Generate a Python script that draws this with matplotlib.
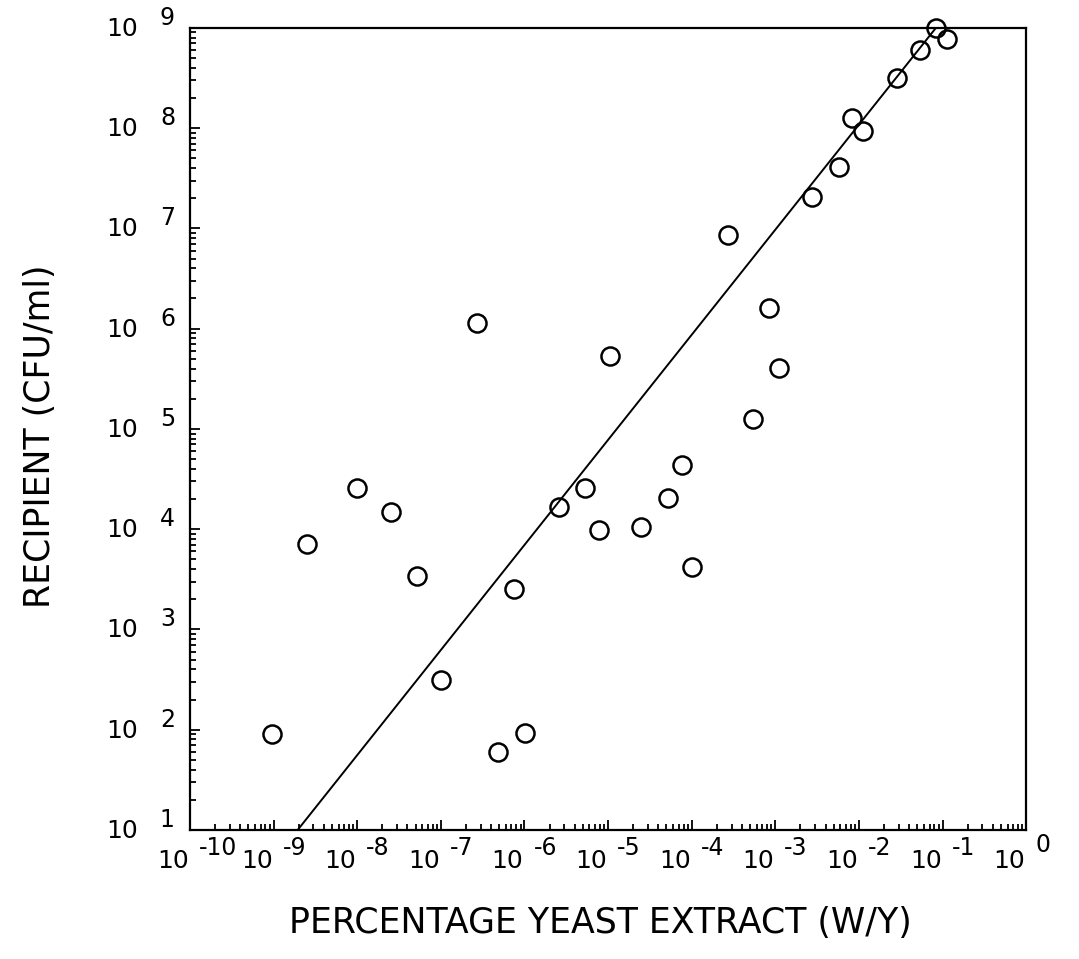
import numpy as np
import matplotlib
matplotlib.use("Agg")
import matplotlib.pyplot as plt
from matplotlib import transforms

plt.rcParams["font.family"] = ["DejaVu Sans"]

# percentage yeast extract (log10) and recipient counts (log10 CFU/ml)
log_extrato = [-9.02, -8.60, -8.00, -7.60, -7.29, -7.00, -6.57, -6.31, -6.12, -5.99,
               -5.59, -5.27, -5.11, -4.98, -4.60, -4.28, -4.11, -3.99, -3.56, -3.27,
               -3.08, -2.96, -2.56, -2.24, -2.08, -1.95, -1.54, -1.27, -1.08, -0.95]
log_receptor = [1.96, 3.85, 4.41, 4.17, 3.53, 2.50, 6.06, 1.78, 3.40, 1.97,
                4.22, 4.41, 3.99, 5.73, 4.02, 4.31, 4.64, 3.62, 6.93, 5.10,
                6.21, 5.61, 7.31, 7.61, 8.10, 7.97, 8.50, 8.78, 9.00, 8.89]

# regression line: log y = a + b * log x
inclinacao = 1.048
intercepto = 10.13

expoentes_x = list(range(-10, 1))
expoentes_y = list(range(1, 10))

x = 10.0 ** np.array(log_extrato)
y = 10.0 ** np.array(log_receptor)

fig = plt.figure(figsize=(10.79, 9.59), dpi=100)
ax = fig.add_axes([0.176, 0.1345, 0.775, 0.8365])
ax.set_xscale("log")
ax.set_yscale("log")
ax.set_xlim(1e-10, 1e0)
ax.set_ylim(1e1, 1e9)

xs = np.logspace(-10, 0, 400)
ys = 10.0 ** (intercepto + inclinacao * np.log10(xs))
ax.plot(xs, ys, color="black", lw=1.4)

ax.plot(x, y, "o", mfc="none", mec="black", ms=13, mew=1.8, clip_on=False)

for lado in ["left", "bottom", "top", "right"]:
    ax.spines[lado].set_linewidth(1.6)

ax.tick_params(which="both", direction="in", top=False, right=False,
               labelbottom=False, labelleft=False, width=1.3)
ax.tick_params(which="major", length=7)
ax.tick_params(which="minor", length=4)
ax.xaxis.set_major_locator(matplotlib.ticker.LogLocator(base=10, numticks=20))
ax.xaxis.set_minor_locator(matplotlib.ticker.LogLocator(base=10, subs=np.arange(2, 10), numticks=20))
ax.yaxis.set_major_locator(matplotlib.ticker.LogLocator(base=10, numticks=20))
ax.yaxis.set_minor_locator(matplotlib.ticker.LogLocator(base=10, subs=np.arange(2, 10), numticks=20))

# tick labels drawn as "10" with a raised exponent
tx = transforms.blended_transform_factory(ax.transData, ax.transAxes)
ty = transforms.blended_transform_factory(ax.transAxes, ax.transData)
off = lambda dx, dy: transforms.ScaledTranslation(dx / 100, dy / 100, fig.dpi_scale_trans)

for e in expoentes_x:
    ax.text(10.0 ** e, 0, "10", transform=tx + off(-1, -31), ha="right", va="center",
            fontsize=18, clip_on=False)
    dy = -18 if e != 0 else -15
    ax.text(10.0 ** e, 0, str(e), transform=tx + off(9, dy), ha="left", va="center",
            fontsize=17, clip_on=False)

for e in expoentes_y:
    ax.text(0, 10.0 ** e, "10", transform=ty + off(-52, -1), ha="right", va="center",
            fontsize=18, clip_on=False)
    ax.text(0, 10.0 ** e, str(e), transform=ty + off(-30, 10), ha="left", va="center",
            fontsize=17, clip_on=False)

fig.text(0.556, 0.02, "PERCENTAGE YEAST EXTRACT (W/Y)", ha="center", va="bottom", fontsize=25)
fig.text(0.037, 0.545, "RECIPIENT (CFU/ml)", ha="center", va="center", rotation=90, fontsize=25)

fig.savefig("out.png", dpi=100, facecolor="white")
